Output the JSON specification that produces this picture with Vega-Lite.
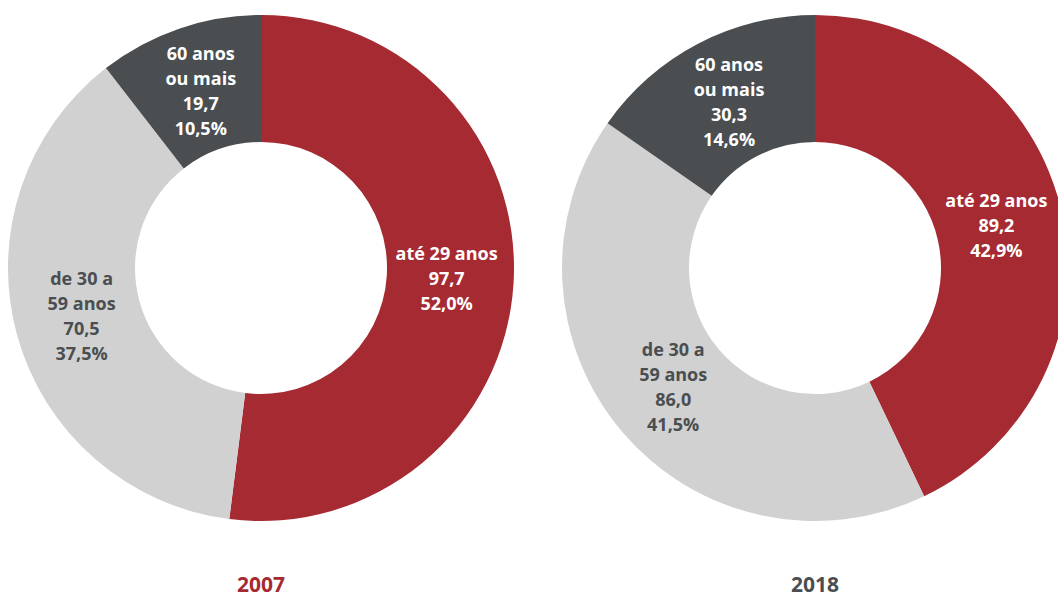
{
  "$schema": "https://vega.github.io/schema/vega-lite/v6.json",
  "padding": 5,
  "spacing": 42,
  "background": "white",
  "datasets": {
    "d": [
      {"year": "2007", "group": "até 29 anos", "ord": 1, "value": 97.7, "share": 52.0, "lines": 3, "label": "até 29 anos\n97,7\n52,0%"},
      {"year": "2007", "group": "de 30 a 59 anos", "ord": 2, "value": 70.5, "share": 37.5, "lines": 4, "label": "de 30 a\n59 anos\n70,5\n37,5%"},
      {"year": "2007", "group": "60 anos ou mais", "ord": 3, "value": 19.7, "share": 10.5, "lines": 4, "label": "60 anos\nou mais\n19,7\n10,5%"},
      {"year": "2018", "group": "até 29 anos", "ord": 1, "value": 89.2, "share": 42.9, "lines": 3, "label": "até 29 anos\n89,2\n42,9%"},
      {"year": "2018", "group": "de 30 a 59 anos", "ord": 2, "value": 86.0, "share": 41.8, "lines": 4, "label": "de 30 a\n59 anos\n86,0\n41,5%"},
      {"year": "2018", "group": "60 anos ou mais", "ord": 3, "value": 30.3, "share": 15.3, "lines": 4, "label": "60 anos\nou mais\n30,3\n14,6%"}
    ]
  },
  "hconcat": [
    {
      "width": 512,
      "height": 526,
      "data": {"name": "d"},
      "transform": [{"filter": "datum.year === '2007'"}],
      "title": {"text": "2007", "orient": "bottom", "color": "#a62a32", "fontSize": 21, "font": "Open Sans", "fontWeight": "bold", "offset": 44},
      "encoding": {
        "theta": {"field": "share", "type": "quantitative", "stack": true},
        "order": {"field": "ord", "type": "quantitative"}
      },
      "layer": [
        {
          "mark": {"type": "arc", "outerRadius": 253, "innerRadius": 126},
          "encoding": {
            "color": {"field": "group", "type": "nominal", "legend": null,
              "scale": {"domain": ["até 29 anos", "de 30 a 59 anos", "60 anos ou mais"], "range": ["#a62a32", "#d0d1d0", "#4a4e50"]}}
          }
        },
        {
          "mark": {"type": "text", "radius": 186, "font": "Open Sans", "fontWeight": "bold", "fontSize": 18, "lineBreak": "\n", "lineHeight": 25, "align": "center", "baseline": "middle", "dy": -25},
          "encoding": {
            "text": {"condition": {"test": "datum.lines === 3", "field": "label"}, "value": ""},
            "color": {"condition": {"test": "datum.group === 'de 30 a 59 anos'", "value": "#4a4e50"}, "value": "white"}
          }
        },
        {
          "mark": {"type": "text", "radius": 186, "font": "Open Sans", "fontWeight": "bold", "fontSize": 18, "lineBreak": "\n", "lineHeight": 25, "align": "center", "baseline": "middle", "dy": -37.5},
          "encoding": {
            "text": {"condition": {"test": "datum.lines === 4", "field": "label"}, "value": ""},
            "color": {"condition": {"test": "datum.group === 'de 30 a 59 anos'", "value": "#4a4e50"}, "value": "white"}
          }
        }
      ]
    },
    {
      "width": 512,
      "height": 526,
      "data": {"name": "d"},
      "transform": [{"filter": "datum.year === '2018'"}],
      "title": {"text": "2018", "orient": "bottom", "color": "#4a4e50", "fontSize": 21, "font": "Open Sans", "fontWeight": "bold", "offset": 44},
      "encoding": {
        "theta": {"field": "share", "type": "quantitative", "stack": true},
        "order": {"field": "ord", "type": "quantitative"}
      },
      "layer": [
        {
          "mark": {"type": "arc", "outerRadius": 253, "innerRadius": 126},
          "encoding": {
            "color": {"field": "group", "type": "nominal", "legend": null,
              "scale": {"domain": ["até 29 anos", "de 30 a 59 anos", "60 anos ou mais"], "range": ["#a62a32", "#d0d1d0", "#4a4e50"]}}
          }
        },
        {
          "mark": {"type": "text", "radius": 186, "font": "Open Sans", "fontWeight": "bold", "fontSize": 18, "lineBreak": "\n", "lineHeight": 25, "align": "center", "baseline": "middle", "dy": -25},
          "encoding": {
            "text": {"condition": {"test": "datum.lines === 3", "field": "label"}, "value": ""},
            "color": {"condition": {"test": "datum.group === 'de 30 a 59 anos'", "value": "#4a4e50"}, "value": "white"}
          }
        },
        {
          "mark": {"type": "text", "radius": 186, "font": "Open Sans", "fontWeight": "bold", "fontSize": 18, "lineBreak": "\n", "lineHeight": 25, "align": "center", "baseline": "middle", "dy": -37.5},
          "encoding": {
            "text": {"condition": {"test": "datum.lines === 4", "field": "label"}, "value": ""},
            "color": {"condition": {"test": "datum.group === 'de 30 a 59 anos'", "value": "#4a4e50"}, "value": "white"}
          }
        }
      ]
    }
  ],
  "config": {"view": {"stroke": null}}
}
